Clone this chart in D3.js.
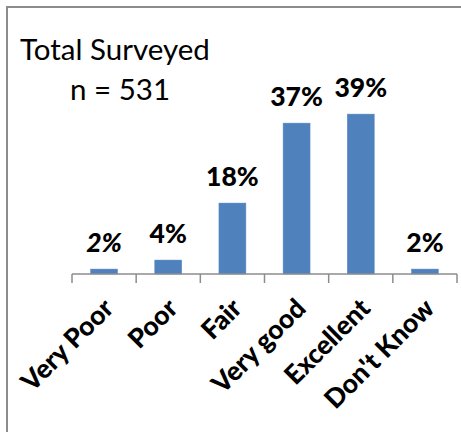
<!DOCTYPE html>
<html lang="en">
<head>
    <meta charset="UTF-8">
    <title>Total Surveyed</title>
    <script src="https://cdn.jsdelivr.net/npm/d3@7"></script>
    <style>
        body { margin: 0; background: #fff; }
        svg { display: block; font-family: Lato, "Open Sans", sans-serif; }
    </style>
</head>
<body>
<svg width="461" height="432"></svg>
<script>
    // chart data
    const categories = ["Very Poor", "Poor", "Fair", "Very good", "Excellent", "Don't Know"];
    const values = [1.2, 3.4, 17.3, 36.8, 39.0, 1.2];
    const valueLabels = ["2%", "4%", "18%", "37%", "39%", "2%"];
    const title = "Total Surveyed";
    const subtitle = "n = 531";

    const svg = d3.select("svg");

    // frame (only top and left edges show in the crop)
    svg.append("path")
        .attr("d", "M7,432 V7 H461")
        .attr("fill", "none")
        .attr("stroke", "#8c8c8c")
        .attr("stroke-width", 2);

    svg.append("text").attr("x", 20).attr("y", 60)
        .attr("font-size", 29.5).text(title);
    svg.append("text").attr("x", 70).attr("y", 100)
        .attr("font-size", 29.5).text(subtitle);

    const x = d3.scaleBand()
        .domain(categories)
        .range([72, 457])
        .paddingInner(0.58)
        .paddingOuter(0.29);

    const y = d3.scaleLinear()
        .domain([0, 40])
        .range([274, 110]);

    const gap = (x.step() - x.bandwidth()) / 2;

    // bars
    svg.selectAll("rect.bar")
        .data(values)
        .join("rect")
        .attr("class", "bar")
        .attr("x", (d, i) => x(categories[i]))
        .attr("y", d => y(d))
        .attr("width", x.bandwidth())
        .attr("height", d => y(0) - y(d))
        .attr("fill", "#4f81bd")
        .attr("stroke", "#5a8ac6")
        .attr("stroke-width", 0.5);

    // value labels
    svg.selectAll("text.val")
        .data(values)
        .join("text")
        .attr("class", "val")
        .attr("x", (d, i) => x(categories[i]) + x.bandwidth() / 2)
        .attr("y", d => y(d) - 17)
        .attr("text-anchor", "middle")
        .attr("font-size", 26.5)
        .attr("font-weight", 900)
        .attr("font-style", (d, i) => i === 0 ? "italic" : "normal")
        .text((d, i) => valueLabels[i]);

    // category axis with ticks at band edges
    const axis = svg.append("g").attr("stroke", "#8c8c8c").attr("stroke-width", 1.5);
    axis.append("line")
        .attr("x1", x.range()[0]).attr("x2", x.range()[1])
        .attr("y1", y(0)).attr("y2", y(0));
    const edges = categories.map(c => x(c) - gap).concat([x.range()[1]]);
    axis.selectAll("line.tick")
        .data(edges)
        .join("line")
        .attr("class", "tick")
        .attr("x1", d => d).attr("x2", d => d)
        .attr("y1", y(0)).attr("y2", y(0) + 9);

    svg.selectAll("text.cat")
        .data(categories)
        .join("text")
        .attr("class", "cat")
        .attr("transform", d => `translate(${x(d) + x.bandwidth() / 2 + 11},${y(0) + 36}) rotate(-45)`)
        .attr("text-anchor", "end")
        .attr("font-size", 26.5)
        .attr("font-weight", 900)
        .text(d => d);
</script>
</body>
</html>
